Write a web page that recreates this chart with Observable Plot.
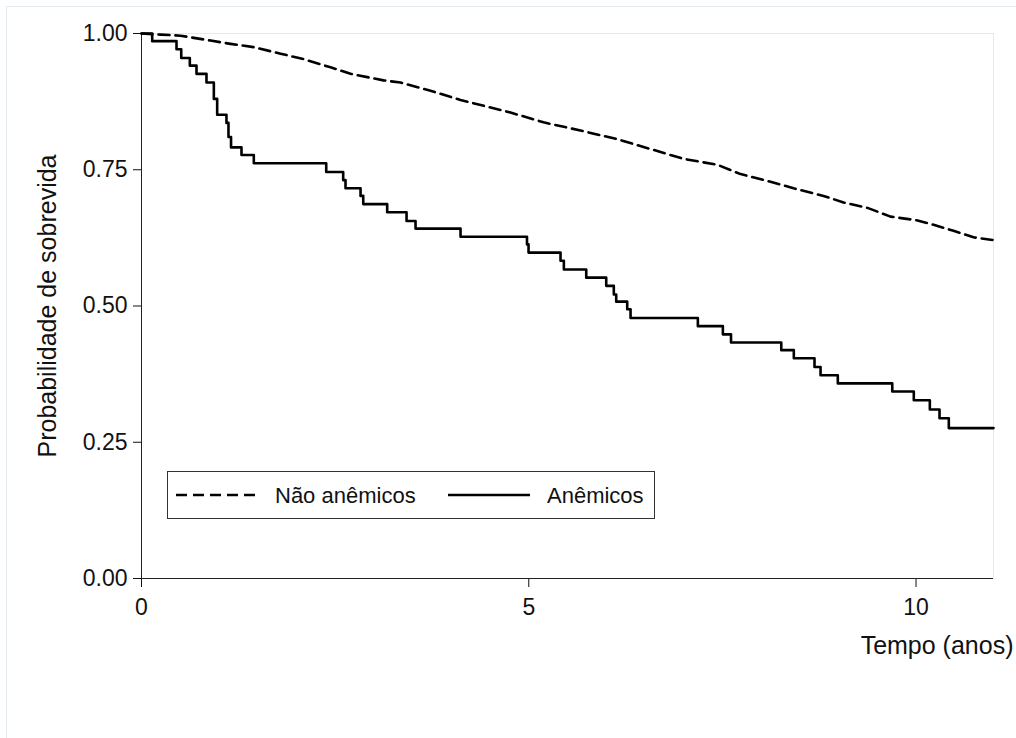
<!DOCTYPE html>
<html>
<head>
<meta charset="utf-8">
<script src="https://cdn.jsdelivr.net/npm/d3@7"></script>
<script src="https://cdn.jsdelivr.net/npm/@observablehq/plot@0.6"></script>
<style>
  body { margin: 0; background: #fff; }
  #wrap { position: relative; width: 1016px; height: 738px; background: #fff; font-family: "Liberation Sans", Arial, sans-serif; }
  #border { position: absolute; left: 6px; top: 6px; right: 0; bottom: 0; border-left: 1px solid #e3eaf0; border-top: 1px solid #e3eaf0; pointer-events: none; }
  #legend { position: absolute; left: 0; top: 0; pointer-events: none; }
</style>
</head>
<body>
<div id="wrap"><div id="border"></div></div>
<script>
// Anêmicos (Kaplan-Meier steps): time in years, survival after step
const anemTimes = [0, 0.138, 0.452, 0.513, 0.624, 0.710, 0.839, 0.934, 0.977, 1.097, 1.123, 1.156, 1.291, 1.450,
  2.385, 2.604, 2.634, 2.828, 2.863, 3.172, 3.422, 3.538, 4.119, 4.977, 4.997, 5.410, 5.453, 5.742, 6.000, 6.098,
  6.129, 6.271, 6.314, 7.183, 7.506, 7.611, 8.260, 8.422, 8.689, 8.767, 8.990, 9.693, 9.971, 10.178, 10.303, 10.423, 11.0];
const anemSurv = [1.000, 0.986, 0.971, 0.955, 0.941, 0.926, 0.910, 0.880, 0.851, 0.836, 0.810, 0.791, 0.777, 0.762,
  0.746, 0.731, 0.716, 0.702, 0.687, 0.672, 0.656, 0.642, 0.627, 0.613, 0.598, 0.583, 0.567, 0.552, 0.537, 0.521,
  0.508, 0.494, 0.478, 0.463, 0.448, 0.433, 0.419, 0.404, 0.388, 0.373, 0.358, 0.343, 0.327, 0.310, 0.294, 0.276, 0.276];

// Não anêmicos
const naoTimes = [0, 0.25, 0.504, 0.891, 1.149, 1.446, 1.795, 2.092, 2.440, 2.699, 3.125, 3.344, 3.731, 4.119, 4.764,
  5.190, 5.668, 6.146, 6.572, 6.998, 7.437, 7.734, 8.121, 8.418, 8.806, 9.064, 9.374, 9.671, 10.019, 10.226, 10.484, 10.742, 11.0];
const naoSurv = [1.000, 0.998, 0.996, 0.987, 0.981, 0.975, 0.963, 0.953, 0.938, 0.926, 0.914, 0.910, 0.895, 0.878, 0.855,
  0.837, 0.822, 0.806, 0.788, 0.770, 0.759, 0.742, 0.728, 0.716, 0.702, 0.690, 0.680, 0.664, 0.657, 0.649, 0.638, 0.626, 0.621];

const xTicks = [0, 5, 10];
const yTicks = [0, 0.25, 0.5, 0.75, 1];
const seriesNames = ["Não anêmicos", "Anêmicos"];
const xLabel = "Tempo (anos)";
const yLabel = "Probabilidade de sobrevida";

const anem = anemTimes.map((t, i) => ({t, s: anemSurv[i]}));
const nao = naoTimes.map((t, i) => ({t, s: naoSurv[i]}));

const chart = Plot.plot({
  width: 1016,
  height: 738,
  marginLeft: 141,
  marginRight: 23,
  marginTop: 33,
  marginBottom: 160,
  x: {domain: [0, 11]},
  y: {domain: [0, 1]},
  style: {fontFamily: "'Liberation Sans', Arial, sans-serif", color: "#111", background: "#fff"},
  marks: [
    Plot.frame({stroke: "#e2eaf0"}),
    Plot.axisX({ticks: xTicks, tickSize: 9, tickPadding: 11, fontSize: 23, label: null, tickFormat: d3.format("d")}),
    Plot.axisY({ticks: yTicks, tickSize: 8, tickPadding: 6, fontSize: 23, label: null, tickFormat: d3.format(".2f")}),
    Plot.ruleX([0], {stroke: "#222"}),
    Plot.ruleY([0], {stroke: "#222"}),
    Plot.line(nao, {x: "t", y: "s", stroke: "#000", strokeWidth: 2.6, strokeDasharray: "11,6"}),
    Plot.line(anem, {x: "t", y: "s", curve: "step-after", stroke: "#000", strokeWidth: 2.6}),
    Plot.text([xLabel], {text: d => d, frameAnchor: "bottom-right", dx: 20, dy: 67, textAnchor: "end", lineAnchor: "middle", fontSize: 25, fill: "#111"}),
    Plot.text([yLabel], {text: d => d, frameAnchor: "left", dx: -94, rotate: -90, textAnchor: "middle", lineAnchor: "middle", fontSize: 25, fill: "#111"})
  ]
});
document.getElementById("wrap").prepend(chart);

// Legend (inside the plot area, as in the reference)
const ns = "http://www.w3.org/2000/svg";
const lg = document.createElementNS(ns, "svg");
lg.setAttribute("id", "legend");
lg.setAttribute("width", 1016);
lg.setAttribute("height", 738);
lg.innerHTML = `
  <rect x="167.5" y="471.5" width="487" height="47" fill="#fff" stroke="#333" stroke-width="1"/>
  <line x1="176" x2="258" y1="495" y2="495" stroke="#000" stroke-width="2.6" stroke-dasharray="11,6"/>
  <text x="275" y="495" dy="0.35em" font-size="22" fill="#111" font-family="'Liberation Sans', Arial, sans-serif">${seriesNames[0]}</text>
  <line x1="448" x2="530" y1="495" y2="495" stroke="#000" stroke-width="2.6"/>
  <text x="547" y="495" dy="0.35em" font-size="22" fill="#111" font-family="'Liberation Sans', Arial, sans-serif">${seriesNames[1]}</text>
`;
document.getElementById("wrap").appendChild(lg);
</script>
</body>
</html>
